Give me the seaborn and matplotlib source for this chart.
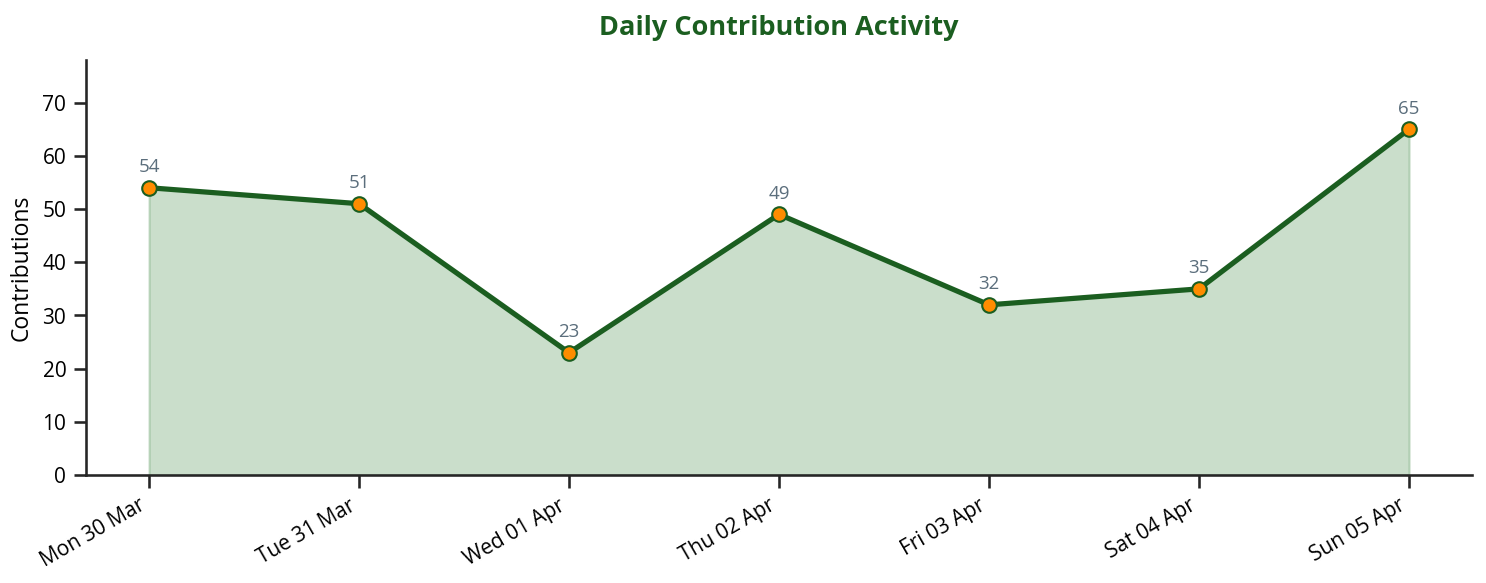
import pandas as pd
import matplotlib.pyplot as plt
import seaborn as sns

days = ['Mon 30 Mar', 'Tue 31 Mar', 'Wed 01 Apr', 'Thu 02 Apr',
        'Fri 03 Apr', 'Sat 04 Apr', 'Sun 05 Apr']
contributions = [54, 51, 23, 49, 32, 35, 65]

sns.set_theme(style='ticks')
plt.rcParams['font.family'] = ['Open Sans', 'DejaVu Sans']

df = pd.DataFrame({'pos': range(len(days)), 'Contributions': contributions})

fig, ax = plt.subplots(figsize=(9.907, 3.887), dpi=150)
fig.subplots_adjust(left=0.0579, right=0.9906, bottom=0.185, top=0.897)

ax.fill_between(df['pos'], df['Contributions'], color='#2e7d32',
                alpha=0.25, linewidth=1)
sns.lineplot(data=df, x='pos', y='Contributions', ax=ax, color='#1b5e20',
             linewidth=2.5, marker='o', markersize=7,
             markerfacecolor='#ff8c00', markeredgecolor='#1b5e20',
             markeredgewidth=1)

for x, y in zip(df['pos'], df['Contributions']):
    ax.annotate(str(y), (x, y), textcoords='offset points', xytext=(0, 5.5),
                ha='center', va='bottom', fontsize=9, color='#5b6e7c')

ax.set_xticks(df['pos'])
ax.set_xticklabels(days, rotation=30, ha='right', fontsize=10, color='black')
ax.tick_params(axis='y', labelsize=10, labelcolor='black')
ax.set_xlim(-0.3, 6.3)
ax.set_ylim(0, max(contributions) * 1.2)
ax.set_xlabel('')
ax.set_ylabel('Contributions', fontsize=11, color='black')
ax.set_title('Daily Contribution Activity', fontsize=13, fontweight='bold',
             color='#1b5e20', pad=12)
sns.despine(ax=ax)

fig.savefig('out.png')
